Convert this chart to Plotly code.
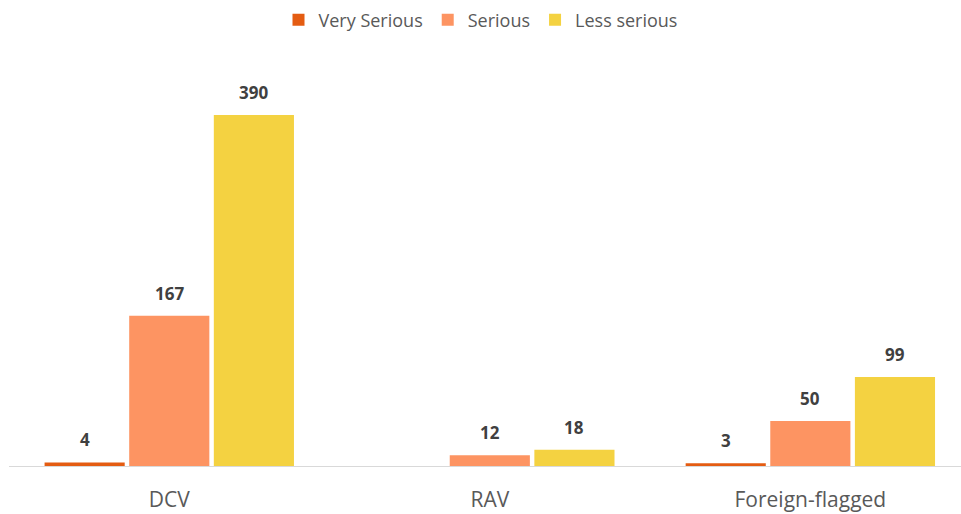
import plotly.graph_objects as go

categories = ["DCV", "RAV", "Foreign-flagged"]
series_names = ["Very Serious", "Serious", "Less serious"]
very_serious = [4, 0, 3]
serious = [167, 12, 50]
less_serious = [390, 18, 99]
colors = ["#E45C12", "#FD9462", "#F4D241"]

values = [very_serious, serious, less_serious]
xpos = list(range(len(categories)))

bar_width = 0.25
slot_offsets = [-0.264, 0.0, 0.264]
label_font = dict(family="Open Sans, Liberation Sans, sans-serif", size=17,
                  color="#404040", weight="bold")

fig = go.Figure()
for name, vals, col, off in zip(series_names, values, colors, slot_offsets):
    fig.add_trace(go.Bar(
        x=xpos,
        y=vals,
        name=name,
        width=bar_width,
        offset=off - bar_width / 2,
        marker=dict(color=col, line=dict(width=0)),
    ))
    # value labels above each bar (zero values are left unlabeled)
    for xi, v in zip(xpos, vals):
        if v > 0:
            fig.add_annotation(
                x=xi + off, y=v, xref="x", yref="y",
                text=str(v), showarrow=False,
                yanchor="bottom", yshift=9,
                font=label_font,
            )

fig.update_layout(
    width=961,
    height=514,
    margin=dict(l=9, r=0, t=60, b=48),
    paper_bgcolor="white",
    plot_bgcolor="white",
    barmode="overlay",
    font=dict(family="Open Sans, Liberation Sans, sans-serif", color="#595959"),
    legend=dict(
        orientation="h",
        x=0.5, xanchor="center", xref="container",
        y=0.961, yanchor="middle", yref="container",
        font=dict(size=18, color="#595959"),
        itemwidth=30,
        traceorder="normal",
    ),
    showlegend=True,
)

fig.update_xaxes(
    tickvals=xpos,
    ticktext=categories,
    range=[-0.5, 2.47],
    showgrid=False,
    showline=True,
    linecolor="#D9D9D9",
    linewidth=1,
    ticks="",
    ticklabelstandoff=15,
    tickfont=dict(size=21, color="#595959"),
    zeroline=False,
)
fig.update_yaxes(
    range=[0, 451],
    showgrid=False,
    showticklabels=False,
    zeroline=False,
    showline=False,
)

fig.write_html("out.html")
